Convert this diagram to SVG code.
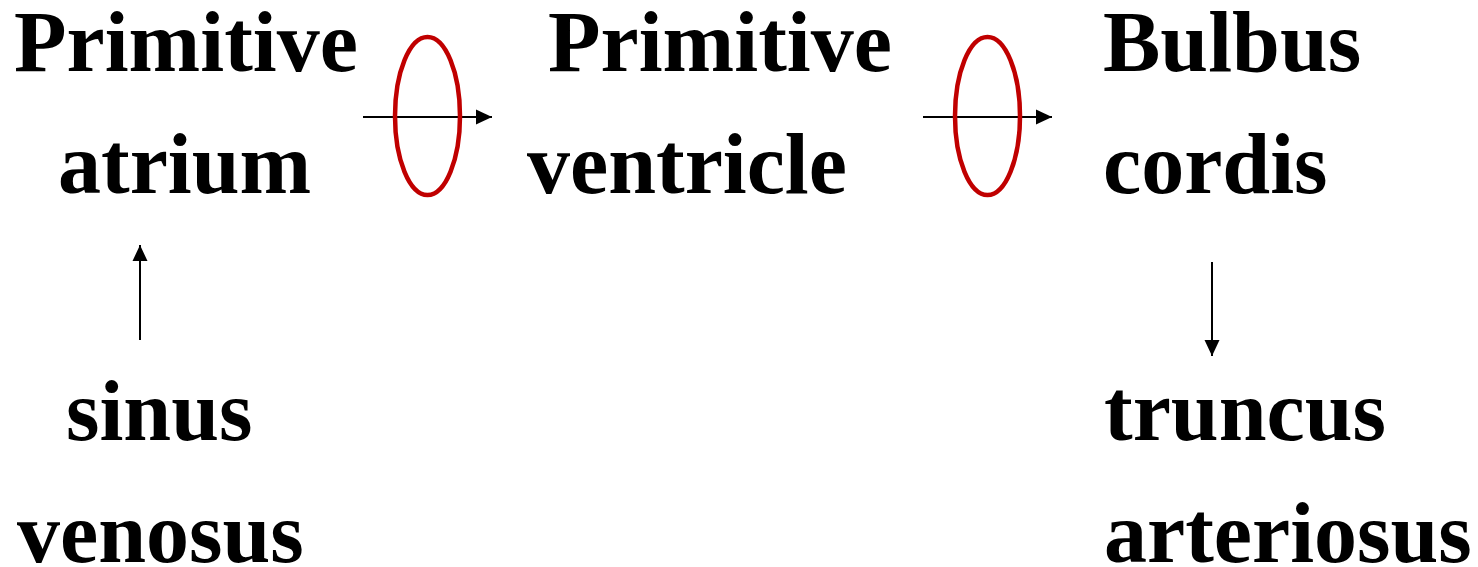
<svg xmlns="http://www.w3.org/2000/svg" width="1478" height="567" viewBox="0 0 1478 567">
<style>
text{font-family:"Liberation Serif","Times New Roman",serif;font-weight:bold;font-size:86px;fill:#000}
.ring{fill:none;stroke:#C00000;stroke-width:4.5}
.conn{stroke:#000;stroke-width:2;fill:none}
</style>
<defs>
<marker id="ah" markerWidth="16" markerHeight="16" refX="16" refY="8" orient="auto" markerUnits="userSpaceOnUse">
<path d="M0,0.5 L16,8 L0,15.5 Z" fill="#000"/>
</marker>
</defs>
<rect width="1478" height="567" fill="#fff"/>
<g id="atrium"><text x="14" y="71">Primitive</text><text x="58" y="193">atrium</text></g>
<g id="ventricle"><text x="548" y="71">Primitive</text><text x="527" y="193">ventricle</text></g>
<g id="bulbus"><text x="1103" y="71">Bulbus</text><text x="1103" y="193">cordis</text></g>
<g id="sinus"><text x="66" y="440">sinus</text><text x="17" y="562">venosus</text></g>
<g id="truncus"><text x="1104" y="440">truncus</text><text x="1104" y="562">arteriosus</text></g>
<g id="connectors">
<line class="conn" x1="363" y1="117" x2="492" y2="117" marker-end="url(#ah)"/>
<line class="conn" x1="923" y1="117" x2="1052" y2="117" marker-end="url(#ah)"/>
<line class="conn" x1="140" y1="340" x2="140" y2="245" marker-end="url(#ah)"/>
<line class="conn" x1="1212" y1="262" x2="1212" y2="356" marker-end="url(#ah)"/>
</g>
<g id="rings">
<ellipse class="ring" cx="427.5" cy="116" rx="32.5" ry="79"/>
<ellipse class="ring" cx="987.5" cy="116" rx="32.5" ry="79"/>
</g>
</svg>
